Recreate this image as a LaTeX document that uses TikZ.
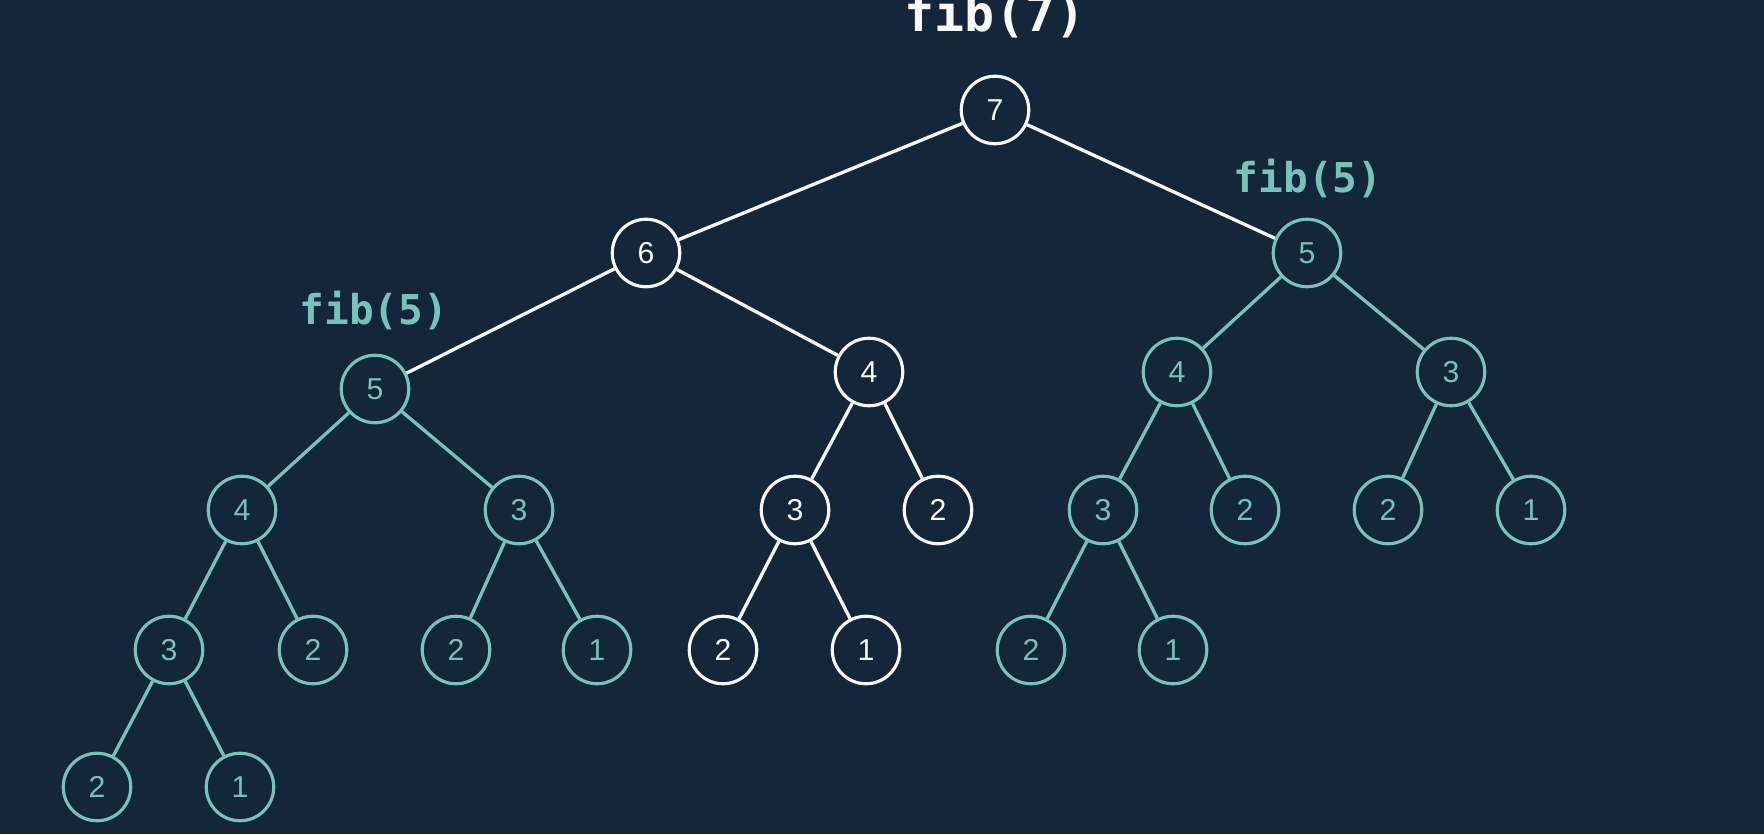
\documentclass[tikz,border=0pt]{standalone}
\usepackage{fontspec}
\setmainfont{Liberation Sans}
\newfontfamily\codefont{DejaVu Sans Mono}
\usepackage{tikz}
\usetikzlibrary{positioning}
\definecolor{bgNavy}{HTML}{13263A}
\definecolor{callTeal}{HTML}{78C2BC}
\definecolor{callWhite}{HTML}{F7F7F7}

\begin{document}
\begin{tikzpicture}[
  call/.style={circle, draw=callWhite, fill=bgNavy, text=callWhite, line width=0.9pt,
    minimum size=0.675cm, inner sep=0pt, font=\fontsize{8.6}{9}\selectfont},
  memo/.style={call, draw=callTeal, text=callTeal},
  hot/.style={draw=callWhite, line width=0.95pt},
  cold/.style={draw=callTeal, line width=0.95pt},
  tag/.style={anchor=base, inner sep=0pt, font=\codefont\bfseries\fontsize{11.7}{12}\selectfont}
]
  \useasboundingbox (0,0) rectangle (17.64,8.34);
  \fill[bgNavy] (0,0) rectangle (17.64,8.34);

  % main path (white)
  \node[call] (n7) at (9.95,7.24) {7};
  \node[call] (n6) at (6.46,5.81) {6};
  \node[call] (n4m) at (8.69,4.62) {4};
  \node[call] (n3m) at (7.95,3.24) {3};
  \node[call] (n2m) at (9.38,3.24) {2};
  \node[call] (n2f) at (7.23,1.84) {2};
  \node[call] (n1f) at (8.66,1.84) {1};

  % left fib(5)
  \node[memo] (n5a) at (3.75,4.45) {5};
  \node[memo] (n4a) at (2.42,3.24) {4};
  \node[memo] (n3a) at (5.19,3.24) {3};
  \node[memo] (n3b) at (1.69,1.84) {3};
  \node[memo] (n2b) at (3.13,1.84) {2};
  \node[memo] (n2e) at (4.56,1.84) {2};
  \node[memo] (n1e) at (5.97,1.84) {1};
  \node[memo] (n2h) at (0.97,0.47) {2};
  \node[memo] (n1h) at (2.40,0.47) {1};

  % right fib(5)
  \node[memo] (n5b) at (13.07,5.81) {5};
  \node[memo] (n4r) at (11.77,4.62) {4};
  \node[memo] (n3r) at (14.51,4.62) {3};
  \node[memo] (n3c) at (11.03,3.24) {3};
  \node[memo] (n2c) at (12.45,3.24) {2};
  \node[memo] (n2d) at (13.88,3.24) {2};
  \node[memo] (n1d) at (15.31,3.24) {1};
  \node[memo] (n2g) at (10.31,1.84) {2};
  \node[memo] (n1g) at (11.73,1.84) {1};

  \node[tag, text=callWhite, font=\codefont\bfseries\fontsize{14.2}{15}\selectfont] (t7) at (9.95,8.02) {fib(7)};
  \node[tag, text=callTeal] (t5b) at (13.08,6.41) {fib(5)};
  \node[tag, text=callTeal] (t5a) at (3.74,5.09) {fib(5)};

  \draw[hot] (n7) -- (n6);
  \draw[hot] (n7) -- (n5b);
  \draw[hot] (n6) -- (n5a);
  \draw[hot] (n6) -- (n4m);
  \draw[hot] (n4m) -- (n3m);
  \draw[hot] (n4m) -- (n2m);
  \draw[hot] (n3m) -- (n2f);
  \draw[hot] (n3m) -- (n1f);

  \draw[cold] (n5a) -- (n4a);
  \draw[cold] (n5a) -- (n3a);
  \draw[cold] (n4a) -- (n3b);
  \draw[cold] (n4a) -- (n2b);
  \draw[cold] (n3b) -- (n2h);
  \draw[cold] (n3b) -- (n1h);
  \draw[cold] (n3a) -- (n2e);
  \draw[cold] (n3a) -- (n1e);

  \draw[cold] (n5b) -- (n4r);
  \draw[cold] (n5b) -- (n3r);
  \draw[cold] (n4r) -- (n3c);
  \draw[cold] (n4r) -- (n2c);
  \draw[cold] (n3c) -- (n2g);
  \draw[cold] (n3c) -- (n1g);
  \draw[cold] (n3r) -- (n2d);
  \draw[cold] (n3r) -- (n1d);
\end{tikzpicture}
\end{document}
